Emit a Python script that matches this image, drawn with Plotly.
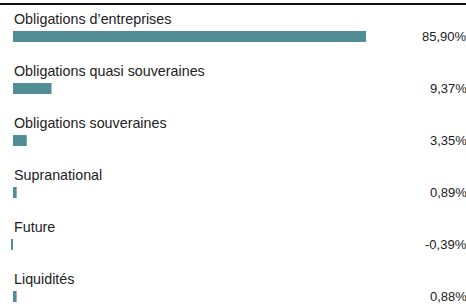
import plotly.graph_objects as go

categories = ["Obligations d\u2019entreprises", "Obligations quasi souveraines",
              "Obligations souveraines", "Supranational", "Future", "Liquidit\u00e9s"]
values = [85.90, 9.37, 3.35, 0.89, -0.39, 0.88]
value_labels = ["85,90%", "9,37%", "3,35%", "0,89%", "-0,39%", "0,88%"]

W, H = 466, 304
pos = list(range(len(categories)))

fig = go.Figure()
fig.add_trace(go.Bar(
    x=values, y=pos, orientation="h",
    marker=dict(color="#528c94", line=dict(width=0)),
    width=0.21, hoverinfo="skip",
))

font = "Liberation Sans, Arial, Helvetica, sans-serif"
for i, (c, lab) in enumerate(zip(categories, value_labels)):
    fig.add_annotation(x=12 / W, xref="paper", y=i, yref="y", text=c,
                       showarrow=False, xanchor="left", yanchor="middle",
                       yshift=17.5, font=dict(family=font, size=14.3, color="#222222"))
    fig.add_annotation(x=1, xref="paper", y=i, yref="y", text=lab,
                       showarrow=False, xanchor="right", yanchor="middle",
                       xshift=3, font=dict(family=font, size=13, color="#222222"))

fig.add_shape(type="line", xref="paper", yref="paper", x0=0, x1=1,
              y0=1 - 4 / H, y1=1 - 4 / H, line=dict(color="#111111", width=2))

k = 4.11
fig.update_layout(
    width=W, height=H, margin=dict(l=0, r=0, t=0, b=0),
    paper_bgcolor="white", plot_bgcolor="white", showlegend=False,
    xaxis=dict(range=[-13 / k, (W - 13) / k], visible=False, fixedrange=True),
    yaxis=dict(range=[(H - 36.5) / 52, -36.5 / 52], visible=False, fixedrange=True),
)
fig.write_html("out.html", config={"displayModeBar": False},
               post_script="document.body.style.margin='0';document.body.style.overflow='hidden';")
